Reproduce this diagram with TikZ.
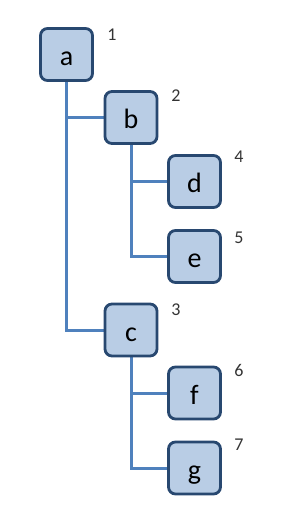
\documentclass[tikz,border=0pt]{standalone}
\usepackage{fontspec}
\setmainfont{Carlito}
\usepackage{tikz}
\usetikzlibrary{backgrounds}
\definecolor{nodefill}{RGB}{185,205,229}
\definecolor{nodeborder}{RGB}{40,72,112}
\definecolor{linkblue}{RGB}{79,129,189}

\begin{document}
\begin{tikzpicture}[x=1pt,y=-1pt,
  treenode/.style={draw=nodeborder,fill=nodefill,line width=2.8pt,rounded corners=7pt,
                   minimum width=52pt,minimum height=52pt,inner sep=0pt,
                   text height=22pt,text depth=0pt,font=\fontsize{28}{28}\selectfont},
  order/.style={font=\fontsize{18}{18}\selectfont,text=black!80},
  branch/.style={draw=linkblue,line width=3pt}
]
\useasboundingbox (0,0) rectangle (282,520);

% Tree nodes.
\node[treenode] (a) at (66.5,54.5) {a};
\node[treenode] (b) at (131,117.5) {b};
\node[treenode] (d) at (194.5,181.5) {d};
\node[treenode] (e) at (194.5,256.5) {e};
\node[treenode] (c) at (131,330) {c};
\node[treenode] (f) at (194.5,393) {f};
\node[treenode] (g) at (194.5,468) {g};

% Visit order.
\node[order] (na) at (112,35) {1};
\node[order] (nb) at (176,96) {2};
\node[order] (nc) at (176,310) {3};
\node[order] (nd) at (239,157) {4};
\node[order] (ne) at (239,238) {5};
\node[order] (nf) at (239,370) {6};
\node[order] (ng) at (239,445) {7};

% Branches, behind the boxes.
\begin{scope}[on background layer]
\draw[branch] (a.center) |- (c.center);
\draw[branch] (a.center |- b.center) -- (b.center);
\draw[branch] (b.center) |- (e.center);
\draw[branch] (b.center |- d.center) -- (d.center);
\draw[branch] (c.center) |- (g.center);
\draw[branch] (c.center |- f.center) -- (f.center);
\end{scope}
\end{tikzpicture}
\end{document}
